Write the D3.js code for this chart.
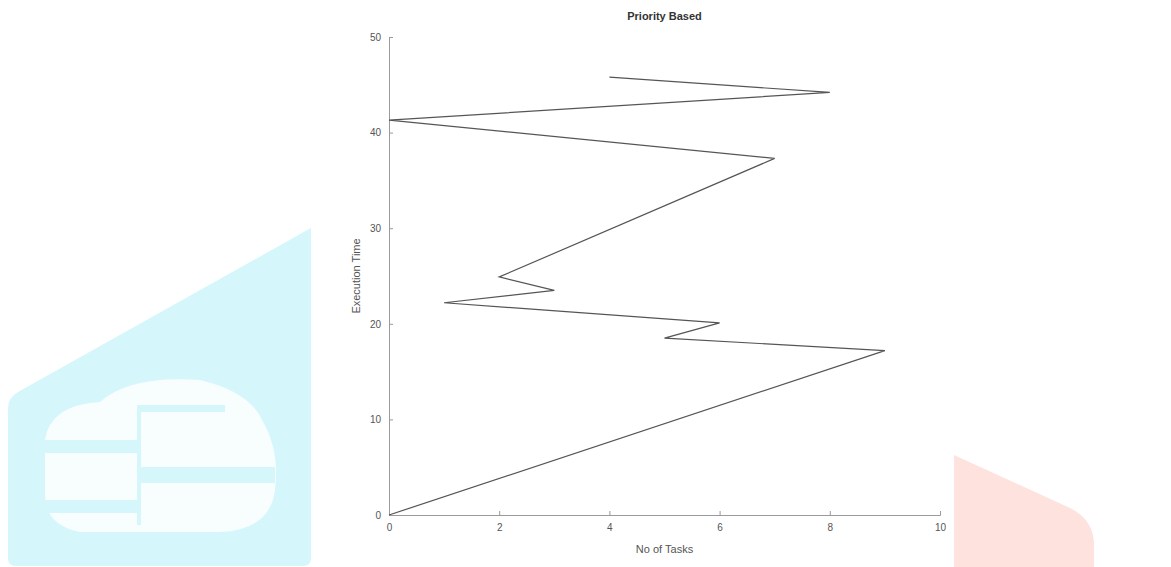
<!DOCTYPE html>
<html>
<head>
<meta charset="utf-8">
<script src="https://cdn.jsdelivr.net/npm/d3@7"></script>
<style>
  body { margin: 0; background: #fff; }
  #vis text { font-family: "Liberation Sans", Arial, sans-serif; }
</style>
</head>
<body>
<div id="vis"></div>
<script>
// chart values
let tasks = [0, 9, 5, 6, 1, 3, 2, 7, 0, 8, 4];
let execTime = [0, 17.2, 18.5, 20.1, 22.2, 23.5, 24.9, 37.3, 41.3, 44.2, 45.8];
let xTicks = [0, 2, 4, 6, 8, 10];
let yTicks = [0, 10, 20, 30, 40, 50];

let W = 1171, H = 567;
let margin = { top: 37, left: 389, right: 231, bottom: 52 };
let width = W - margin.left - margin.right,
    height = H - margin.top - margin.bottom;

let svg = d3.select('#vis')
  .append('svg')
  .attr('width', W)
  .attr('height', H)
  .style('background-color', 'white');

// faint watermark shapes behind the chart
let bg = svg.append('g');
bg.append('path')
  .attr('d', 'M8,408 Q8,398 18,392 L311,228 L311,558 Q311,566 303,566 L16,566 Q8,566 8,558 Z')
  .attr('fill', '#d5f6fb');
bg.append('path')
  .attr('d', 'M45,440 Q50,405 100,402 Q130,375 200,380 Q250,392 262,420 Q280,450 275,490 Q270,530 220,532 L80,532 Q45,525 45,495 Z')
  .attr('fill', '#f8fdfe');
[[45, 440, 95, 13], [140, 467, 135, 16], [45, 500, 95, 13], [140, 405, 85, 7]].forEach(function (r) {
  bg.append('rect')
    .attr('x', r[0]).attr('y', r[1])
    .attr('width', r[2]).attr('height', r[3])
    .attr('fill', '#d5f6fb');
});
bg.append('rect')
  .attr('x', 137).attr('y', 405).attr('width', 4).attr('height', 120)
  .attr('fill', '#d5f6fb');
bg.append('path')
  .attr('d', 'M954,455 L1070,508 Q1094,520 1094,545 L1094,567 L954,567 Z')
  .attr('fill', '#fde2de');

let g = svg.append('g')
  .attr('transform', 'translate(' + margin.left + ',' + margin.top + ')');

let x = d3.scaleLinear().domain([0, 10]).range([0, width]);
let y = d3.scaleLinear().domain([0, 50]).range([height, 0]);

let xAxis = g.append('g')
  .attr('transform', 'translate(0,' + height + ')')
  .call(d3.axisBottom(x).tickValues(xTicks).tickSize(-4).tickPadding(9).tickFormat(d3.format('d')));
let yAxis = g.append('g')
  .call(d3.axisLeft(y).tickValues(yTicks).tickSize(-4).tickPadding(8).tickFormat(d3.format('d')));

[xAxis, yAxis].forEach(function (a) {
  a.select('.domain').attr('stroke', '#9a9a9a');
  a.selectAll('.tick line').attr('stroke', '#9a9a9a');
  a.selectAll('.tick text').attr('fill', '#555').style('font-size', '10px');
});

let line = d3.line()
  .x(function (d, i) { return x(tasks[i]); })
  .y(function (d) { return y(d); });

g.append('path')
  .datum(execTime)
  .attr('d', line)
  .attr('fill', 'none')
  .attr('stroke', '#555')
  .attr('stroke-width', 1.2);

svg.append('text')
  .attr('x', margin.left + width / 2)
  .attr('y', 20)
  .attr('text-anchor', 'middle')
  .style('font-size', '11px')
  .style('font-weight', 'bold')
  .attr('fill', '#333')
  .text('Priority Based');

svg.append('text')
  .attr('x', margin.left + width / 2)
  .attr('y', 553)
  .attr('text-anchor', 'middle')
  .style('font-size', '11px')
  .attr('fill', '#555')
  .text('No of Tasks');

svg.append('text')
  .attr('transform', 'translate(360,' + (margin.top + height / 2) + ') rotate(-90)')
  .attr('text-anchor', 'middle')
  .style('font-size', '11px')
  .attr('fill', '#555')
  .text('Execution Time');
</script>
</body>
</html>
